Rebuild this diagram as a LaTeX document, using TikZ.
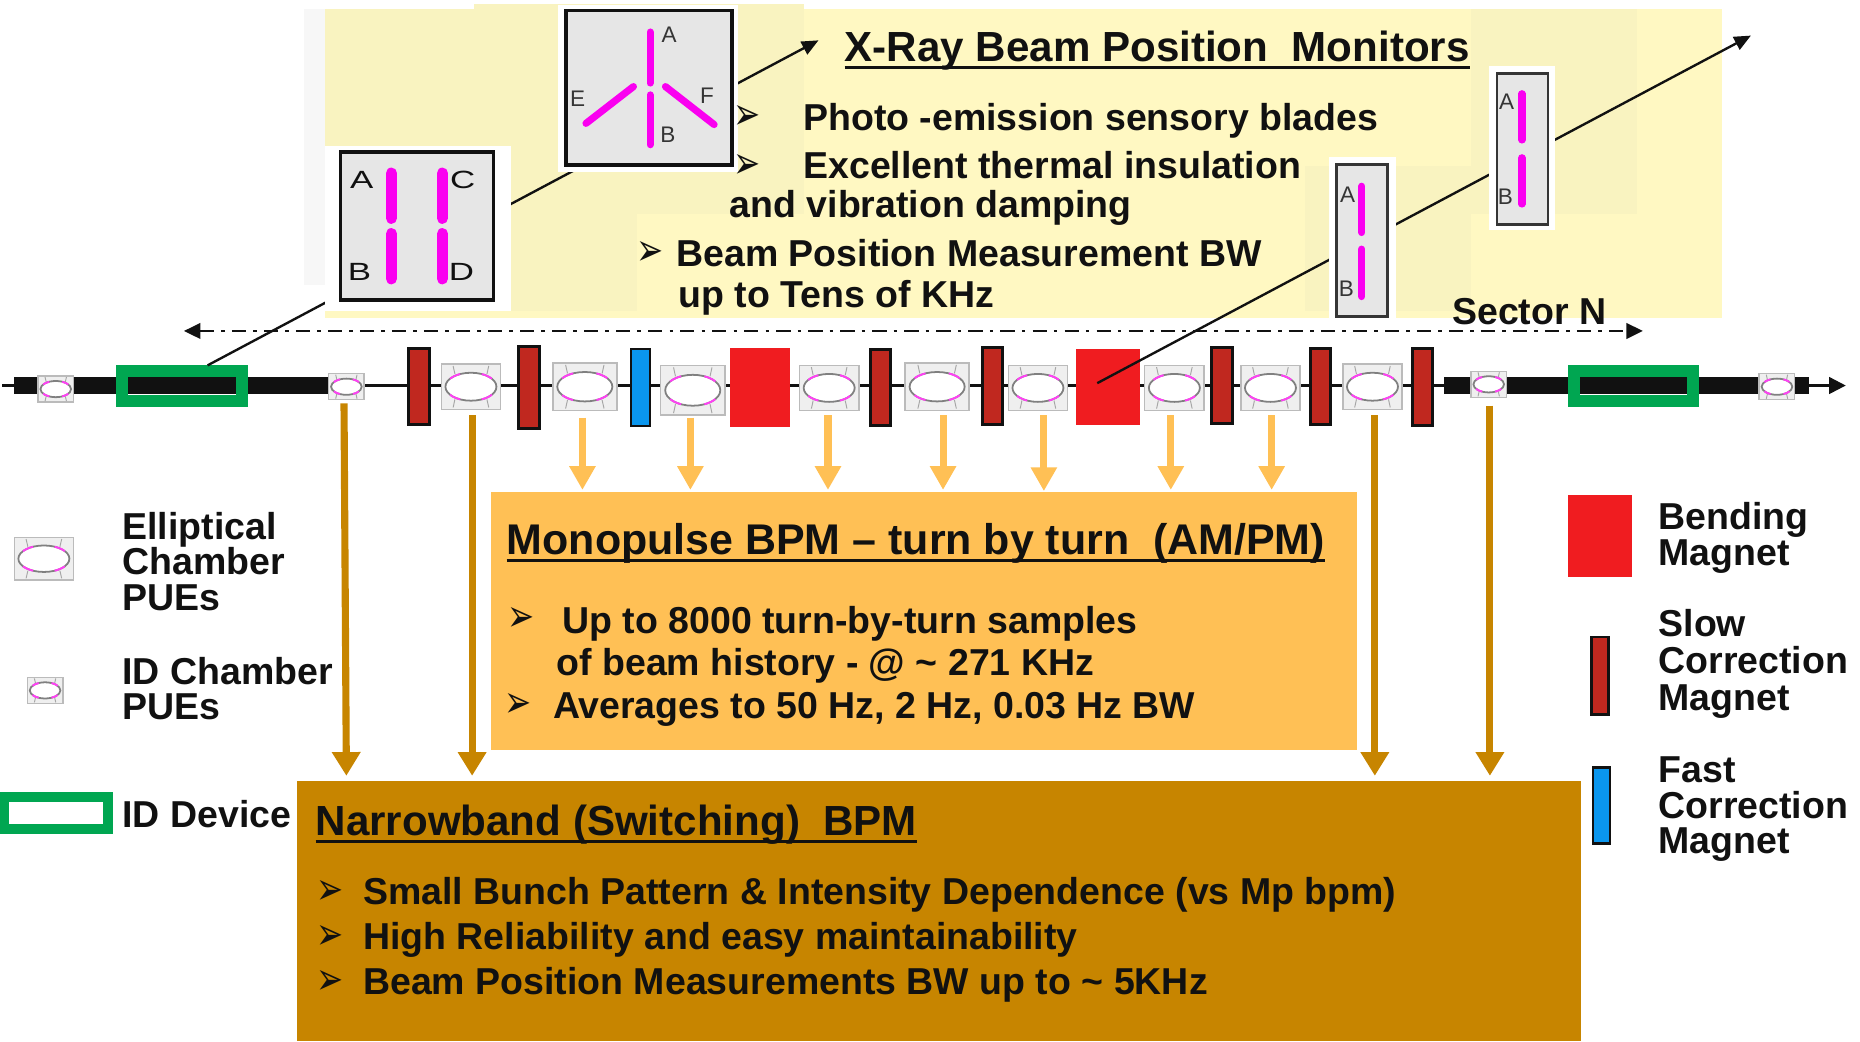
\documentclass[tikz,border=0pt]{standalone}
\usepackage{fontspec}
\setmainfont{Liberation Sans}
\newfontfamily\bulfont{DejaVu Sans}
\usetikzlibrary{arrows.meta}
\definecolor{ylw}{HTML}{FFF8C2}
\definecolor{ylwb}{HTML}{F9F3C0}
\definecolor{panelgray}{HTML}{E6E6E6}
\definecolor{puebg}{HTML}{EFEFEF}
\definecolor{pueedge}{HTML}{BBBBBB}
\definecolor{slowred}{HTML}{C0281F}
\definecolor{bendred}{HTML}{F01C20}
\definecolor{fastblue}{HTML}{0A96EE}
\definecolor{idgreen}{HTML}{00A651}
\definecolor{lightor}{HTML}{FFC055}
\definecolor{darkor}{HTML}{C78500}
\definecolor{ink}{HTML}{111111}
\definecolor{blademag}{HTML}{FA00F0}
\definecolor{puemag}{HTML}{FF40F4}
\tikzset{
  rbx/.style={inner sep=0pt,outer sep=0pt},
  slowmag/.style={fill=slowred,draw=ink,line width=2.5pt},
  fastmag/.style={fill=fastblue,draw=ink,line width=2pt},
  bendmag/.style={fill=bendred},
  idring/.style={draw=idgreen,line width=10pt,fill=none},
  panelbox/.style={fill=panelgray,draw=ink,line width=3pt},
  panelnarrow/.style={fill=panelgray,draw=ink!85,line width=2.4pt},
  blade/.style={line width=6pt,blademag,line cap=round},
  bladewide/.style={line width=9.5pt,blademag,line cap=round},
  bladelabel/.style={font=\fontsize{19}{20}\selectfont,text=ink!85,inner sep=0pt},
  bladelabelw/.style={font=\fontsize{21}{22}\selectfont,text=ink,inner sep=0pt,xscale=1.4},
  txtbase/.style={text=ink,anchor=mid west,inner sep=0pt,yshift=-9pt},
  txtA/.style={txtbase,font=\fontsize{31.6}{33}\selectfont\bfseries},
  txtB/.style={txtbase,font=\fontsize{31.6}{33}\selectfont\bfseries},
  ttl/.style={txtbase,yshift=-1.5pt,font=\fontsize{35.5}{37}\selectfont\bfseries},
  ttlm/.style={txtbase,yshift=-1.5pt,font=\fontsize{36.2}{38}\selectfont\bfseries},
  lgd/.style={txtbase,font=\fontsize{31.6}{33}\selectfont\bfseries},
  bul/.style={font=\fontsize{38}{40}\selectfont\bulfont,text=ink,inner sep=0pt,xscale=.72,yshift=-1pt},
  leader/.style={draw=ink,line width=2pt},
  arrL/.style={draw=lightor,line width=6pt,-{Triangle[length=20pt,width=21pt]}},
  arrD/.style={draw=darkor,line width=6pt,-{Triangle[length=20pt,width=23pt]}},
  ulbar/.style={draw=ink,line width=2.6pt},
}
% rectangle node from corners
\newcommand\rb[6][]{\node[rbx,#1,minimum width={(#5-#3)*1pt},minimum height={(#6-#4)*1pt}] (#2) at ({(#3+#5)/2},{(#4+#6)/2}) {};}
% pick-up electrode chamber
\newcommand\pue[5]{%
  \node[rbx,fill=puebg,draw=pueedge,line width=1.2pt,minimum width=#4pt,minimum height=#5pt] (#1) at (#2,#3) {};
  \begin{scope}[shift={(#2,#3)}]
    \foreach \sx in {1,-1}\foreach \sy in {1,-1}{
      \draw[gray!70,line width=.8pt] ({\sx*.27*#4},{\sy*.28*#5}) -- ({\sx*.30*#4},{\sy*.46*#5});
    }
    \draw[gray,fill=white,line width=1.5pt] (0,0) ellipse [x radius={.43*#4},y radius={.31*#5}];
    \foreach \a in {35,115,215,295}{
      \draw[puemag,line width=1.6pt] ({.43*#4*cos(\a)},{.31*#5*sin(\a)}) arc[start angle=\a,delta angle=30,x radius={.43*#4},y radius={.31*#5}];
    }
  \end{scope}}
\begin{document}
\begin{tikzpicture}[x=1pt,y=-1pt]
\useasboundingbox (0,0) rectangle (1568,877.6);
% yellow background
\rb[fill=ylw]{yMain}{274}{8}{1452}{268}
\rb[fill=ylwb]{yLeft}{274}{8}{537}{262}
\rb[fill=ylwb]{yTop}{400}{3}{678}{180}
\rb[fill=ylwb]{yRa}{1240}{8}{1380}{180}
\rb[fill=ylwb]{yRb}{1100}{140}{1240}{262}
\rb[fill=black!3]{yGray}{256}{8}{274}{240}
% beam line
\coordinate (bS) at (2,325);
\coordinate (bE) at (1556,325);
\draw[ink,line width=2pt,-{Triangle[length=14pt,width=14pt]}] (bS) -- (bE);
\rb[fill=ink]{thickL}{12}{318}{278}{332}
\rb[fill=ink]{thickR}{1217}{318}{1525}{332}
% ID devices
\rb[idring]{idL}{103}{313}{204}{338}
\rb[idring]{idR}{1327}{313}{1427}{338}
% small PUEs
\pue{sp1}{47}{328}{30}{22}
\pue{sp2}{292}{326}{30}{22}
\pue{sp3}{1255}{324}{30}{22}
\pue{sp4}{1498}{326}{30}{22}
% large PUEs
\pue{lp1}{397}{326}{50}{38}
\pue{lp2}{493}{326}{54}{40}
\pue{lp3}{584}{329}{54}{42}
\pue{lp4}{699}{327}{50}{38}
\pue{lp5}{790}{326}{54}{40}
\pue{lp6}{875}{327}{50}{38}
\pue{lp7}{990}{327}{50}{38}
\pue{lp8}{1071}{327}{50}{38}
\pue{lp9}{1157}{326}{50}{38}
% magnets
\rb[slowmag]{sm1}{344}{294}{362}{358}
\rb[slowmag]{sm2}{437}{292}{455}{361}
\rb[slowmag]{sm3}{734}{295}{751}{359}
\rb[slowmag]{sm4}{828}{293}{845}{358}
\rb[slowmag]{sm5}{1021}{293}{1039}{357}
\rb[slowmag]{sm6}{1105}{294}{1122}{358}
\rb[slowmag]{sm7}{1191}{294}{1208}{359}
\rb[fastmag]{fm1}{532}{294}{548}{359}
\rb[bendmag]{bm1}{615}{293}{666}{360}
\rb[bendmag]{bm2}{907}{294}{961}{358}
% sector line
\coordinate (secL) at (155,279);
\coordinate (secR) at (1385,279);
\draw[ink,line width=2.4pt,dash pattern=on 12pt off 6pt on 3pt off 6pt,{Triangle[length=14pt,width=13pt]}-{Triangle[length=14pt,width=13pt]}] (secL) -- (secR);
% leaders (pass behind the panels)
\coordinate (l1s) at (175,308);
\coordinate (l1e) at (690,34);
\coordinate (l2s) at (925,323);
\coordinate (l2e) at (1476,30);
\draw[leader,-{Triangle[length=14pt,width=12pt]}] (l1s) -- (l1e);
\draw[leader,-{Triangle[length=14pt,width=12pt]}] (l2s) -- (l2e);
% panel A (four blades)
\rb[fill=white]{pAw}{274}{123}{431}{262}
\rb[panelbox]{pA}{287}{128}{416}{253}
\draw[bladewide] (330,146) -- (330,184);
\draw[bladewide] (330,197) -- (330,235);
\draw[bladewide] (373,146) -- (373,184);
\draw[bladewide] (373,197) -- (373,235);
\node[bladelabelw] (pAa) at (305,152) {A};
\node[bladelabelw] (pAc) at (390,152) {C};
\node[bladelabelw] (pAb) at (303,229) {B};
\node[bladelabelw] (pAd) at (389,229) {D};
% panel B (six blades)
\rb[fill=white]{pBw}{470}{4}{622}{145}
\rb[panelbox]{pB}{477}{9}{617}{139}
\draw[blade] (548,27) -- (548,70);
\draw[blade] (548,80) -- (548,122);
\draw[blade] (494,104) -- (534,73);
\draw[blade] (602,105) -- (561,73);
\node[bladelabel] (pBa) at (564,29) {A};
\node[bladelabel] (pBe) at (487,83) {E};
\node[bladelabel] (pBf) at (596,81) {F};
\node[bladelabel] (pBb) at (563,114) {B};
% panel C
\rb[fill=white]{pCw}{1120}{132}{1177}{273}
\rb[panelnarrow]{pC}{1127}{139}{1170}{267}
\draw[blade] (1148,157) -- (1148,196);
\draw[blade] (1148,210) -- (1148,250);
\node[bladelabel] (pCa) at (1136,164) {A};
\node[bladelabel] (pCb) at (1135,243) {B};
% panel D
\rb[fill=white]{pDw}{1255}{56}{1311}{194}
\rb[panelnarrow]{pD}{1262}{62}{1305}{189}
\draw[blade] (1283,79) -- (1283,118);
\draw[blade] (1283,133) -- (1283,172);
\node[bladelabel] (pDa) at (1270,86) {A};
\node[bladelabel] (pDb) at (1269,166) {B};
% top texts
\node[ttl] (tXray) at (712,39) {X-Ray Beam Position\ \ Monitors};
\draw[ulbar] ([yshift=-5pt]tXray.base west) -- ([yshift=-5pt]tXray.base east);
\node[bul] (bu1) at (630,98) {➢};
\node[bul] (bu2) at (630,139) {➢};
\node[bul] (bu3) at (548,213) {➢};
\node[txtA] (t1) at (677,98) {Photo -emission sensory blades};
\node[txtA] (t2) at (677,139) {Excellent thermal insulation};
\node[txtA] (t3) at (615,172) {and vibration damping};
\node[txtA] (t4) at (570,213) {Beam Position Measurement BW};
\node[txtA] (t5) at (572,248) {up to Tens of KHz};
\node[txtA] (tSec) at (1224,262) {Sector N};
% monopulse box
\rb[fill=lightor]{mono}{414}{415}{1144}{632}
\coordinate (a1) at (491,413); \coordinate (a2) at (582,413); \coordinate (a3) at (698,413);
\coordinate (a4) at (795,413); \coordinate (a5) at (880,414); \coordinate (a6) at (987,413);
\coordinate (a7) at (1072,413);
\coordinate (s1) at (491,352); \coordinate (s2) at (582,352); \coordinate (s3) at (698,350);
\coordinate (s4) at (795,350); \coordinate (s5) at (880,350); \coordinate (s6) at (987,350);
\coordinate (s7) at (1072,350);
\foreach \i in {1,...,7}{\draw[arrL] (s\i) -- (a\i);}
\node[ttlm] (tMono) at (427,454) {Monopulse BPM – turn by turn\ \ (AM/PM)};
\draw[ulbar] ([yshift=-5pt]tMono.base west) -- ([yshift=-5pt]tMono.base east);
\node[bul] (bm-1) at (439,521) {➢};
\node[bul] (bm-2) at (437,594) {➢};
\node[txtA] (m1) at (474,522) {Up to 8000 turn-by-turn samples};
\node[txtA] (m2) at (469,558) {of beam history - @ \textasciitilde{} 271 KHz};
\node[txtA] (m3) at (466,594) {Averages to 50 Hz, 2 Hz, 0.03 Hz BW};
% narrowband box
\rb[fill=darkor]{narrow}{250}{658}{1333}{877.6}
\coordinate (d1s) at (290,340); \coordinate (d1e) at (292,654);
\coordinate (d2s) at (398,350); \coordinate (d2e) at (398,654);
\coordinate (d3s) at (1159,350); \coordinate (d3e) at (1159,654);
\coordinate (d4s) at (1256,342); \coordinate (d4e) at (1256,654);
\foreach \i in {1,...,4}{\draw[arrD] (d\i s) -- (d\i e);}
\node[ttl] (tNarrow) at (266,691) {Narrowband (Switching)\ \ BPM};
\draw[ulbar] ([yshift=-5pt]tNarrow.base west) -- ([yshift=-5pt]tNarrow.base east);
\node[bul] (bn1) at (278,751) {➢};
\node[bul] (bn2) at (278,789) {➢};
\node[bul] (bn3) at (278,827) {➢};
\node[txtB] (n1) at (306,751) {Small Bunch Pattern \& Intensity Dependence (vs Mp bpm)};
\node[txtB] (n2) at (306,789) {High Reliability and easy maintainability};
\node[txtB] (n3) at (306,827) {Beam Position Measurements BW up to \textasciitilde{} 5KHz};
% left legend
\pue{lgP1}{37}{471}{50}{36}
\pue{lgP2}{38}{582}{30}{22}
\rb[draw=idgreen,line width=8pt]{lgId}{4}{672}{91}{699}
\node[lgd] (l1) at (103,443) {Elliptical};
\node[lgd] (l2) at (103,473) {Chamber};
\node[lgd] (l3) at (103,503) {PUEs};
\node[lgd] (l4) at (103,565) {ID Chamber};
\node[lgd] (l5) at (103,595) {PUEs};
\node[lgd] (l6) at (103,686) {ID Device};
% right legend
\rb[bendmag]{lgB}{1322}{417}{1376}{486}
\rb[slowmag]{lgS}{1342}{537}{1356}{602}
\rb[fastmag]{lgF}{1343}{647}{1357}{711}
\node[lgd] (r1) at (1398,435) {Bending};
\node[lgd] (r2) at (1398,465) {Magnet};
\node[lgd] (r3) at (1398,525) {Slow};
\node[lgd] (r4) at (1398,556) {Correction};
\node[lgd] (r5) at (1398,587) {Magnet};
\node[lgd] (r6) at (1398,648) {Fast};
\node[lgd] (r7) at (1398,678) {Correction};
\node[lgd] (r8) at (1398,708) {Magnet};
\end{tikzpicture}
\end{document}
